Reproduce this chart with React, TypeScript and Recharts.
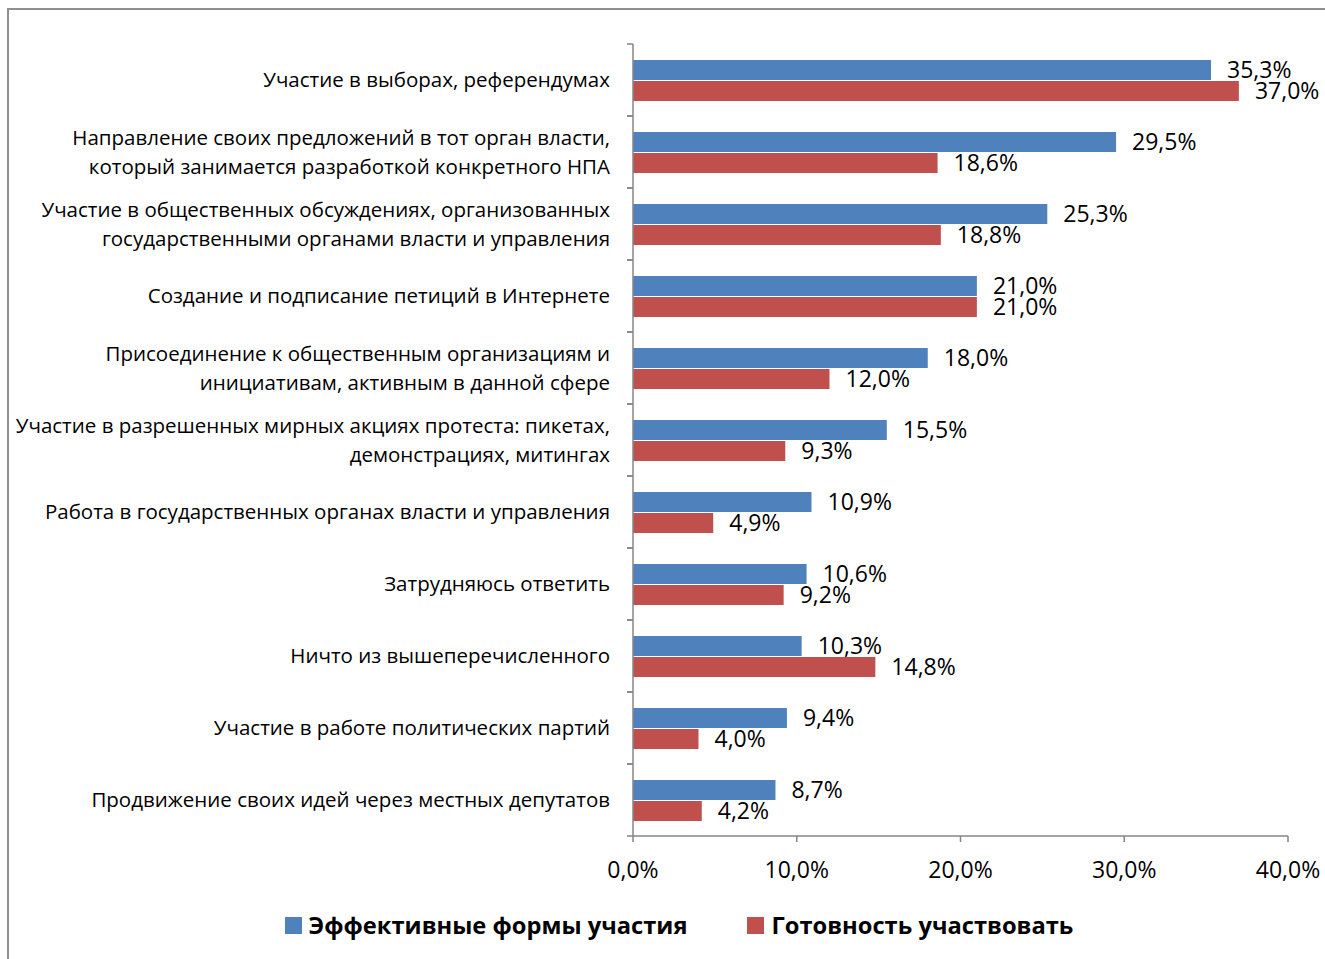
import React from "react";
import { BarChart, Bar, XAxis, YAxis, LabelList, Legend } from "recharts";

const categories = [
  "Участие в выборах, референдумах",
  "Направление своих предложений в тот орган власти,\nкоторый занимается разработкой конкретного НПА",
  "Участие в общественных обсуждениях, организованных\nгосударственными органами власти и управления",
  "Создание и подписание петиций в Интернете",
  "Присоединение к общественным организациям и\nинициативам, активным в данной сфере",
  "Участие в разрешенных мирных акциях протеста: пикетах,\nдемонстрациях, митингах",
  "Работа в государственных органах власти и управления",
  "Затрудняюсь ответить",
  "Ничто из вышеперечисленного",
  "Участие в работе политических партий",
  "Продвижение своих идей через местных депутатов",
];
const effective = [35.3, 29.5, 25.3, 21.0, 18.0, 15.5, 10.9, 10.6, 10.3, 9.4, 8.7];
const readiness = [37.0, 18.6, 18.8, 21.0, 12.0, 9.3, 4.9, 9.2, 14.8, 4.0, 4.2];
const xTicks = [0, 10, 20, 30, 40];
const seriesNames = ["Эффективные формы участия", "Готовность участвовать"];

const data = categories.map((c, i) => ({ cat: c, a: effective[i], b: readiness[i] }));

const BLUE = "#4F81BD";
const RED = "#C0504D";
const AXIS = "#868686";
const FONT = "'Open Sans', sans-serif";

const fmt = (v: number) => v.toFixed(1).replace(".", ",") + "%";

const CatTick = (props: any) => {
  const { x, y, payload } = props;
  const lines = String(payload.value).split("\n");
  const lh = 29;
  const start = y - ((lines.length - 1) * lh) / 2;
  const half = 36;
  return (
    <g>
      <line x1={x - 6} x2={x} y1={y - half} y2={y - half} stroke={AXIS} strokeWidth={1.5} />
      <line x1={x - 6} x2={x} y1={y + half} y2={y + half} stroke={AXIS} strokeWidth={1.5} />
      <text x={x - 23} y={start} textAnchor="end" fill="#000" fontSize={20.5} fontFamily={FONT}>
        {lines.map((l, i) => (
          <tspan key={i} x={x - 23} y={start + i * lh} dy="0.35em">
            {l}
          </tspan>
        ))}
      </text>
    </g>
  );
};

const LegendContent = () => (
  <div style={{ display: "flex", justifyContent: "center", alignItems: "center", height: 40, fontFamily: FONT, fontWeight: 700, fontSize: 23.7, color: "#000", paddingLeft: 62 }}>
    <span style={{ display: "inline-block", width: 17, height: 17, background: BLUE, marginRight: 7 }} />
    <span style={{ marginRight: 60 }}>{seriesNames[0]}</span>
    <span style={{ display: "inline-block", width: 17, height: 17, background: RED, marginRight: 7 }} />
    <span>{seriesNames[1]}</span>
  </div>
);

export default function App() {
  return (
    <div style={{ position: "fixed", left: 0, top: 0, width: 1325, height: 959, overflow: "hidden", background: "#fff" }}>
      <div style={{ position: "absolute", left: 7, top: 8, width: 2000, height: 2000, borderTop: "2px solid #8f8f8f", borderLeft: "2px solid #8f8f8f" }} />
      <div style={{ position: "absolute", left: 8, top: 8 }}>
        <BarChart
          width={1317}
          height={951}
          data={data}
          layout="vertical"
          margin={{ top: 36, right: 37, bottom: 14, left: 0 }}
          barGap={1}
          barSize={20}
          style={{ overflow: "visible" }}
        >
          <XAxis
            type="number"
            domain={[0, 40]}
            ticks={xTicks}
            tickFormatter={fmt}
            stroke={AXIS}
            strokeWidth={1.5}
            tickSize={6}
            tickMargin={20}
            height={69}
            tick={{ fill: "#000", fontSize: 23, fontFamily: FONT }}
            interval={0}
          />
          <YAxis
            type="category"
            dataKey="cat"
            width={625}
            stroke={AXIS}
            strokeWidth={1.5}
            tickLine={false}
            tickSize={0}
            tickMargin={0}
            tick={<CatTick />}
            interval={0}
          />
          <Legend verticalAlign="bottom" height={40} content={<LegendContent />} />
          <Bar dataKey="a" name={seriesNames[0]} fill={BLUE} isAnimationActive={false}>
            <LabelList dataKey="a" position="right" offset={16} formatter={fmt} fill="#000" fontSize={23} fontFamily={FONT} />
          </Bar>
          <Bar dataKey="b" name={seriesNames[1]} fill={RED} isAnimationActive={false}>
            <LabelList dataKey="b" position="right" offset={16} formatter={fmt} fill="#000" fontSize={23} fontFamily={FONT} />
          </Bar>
        </BarChart>
      </div>
    </div>
  );
}
